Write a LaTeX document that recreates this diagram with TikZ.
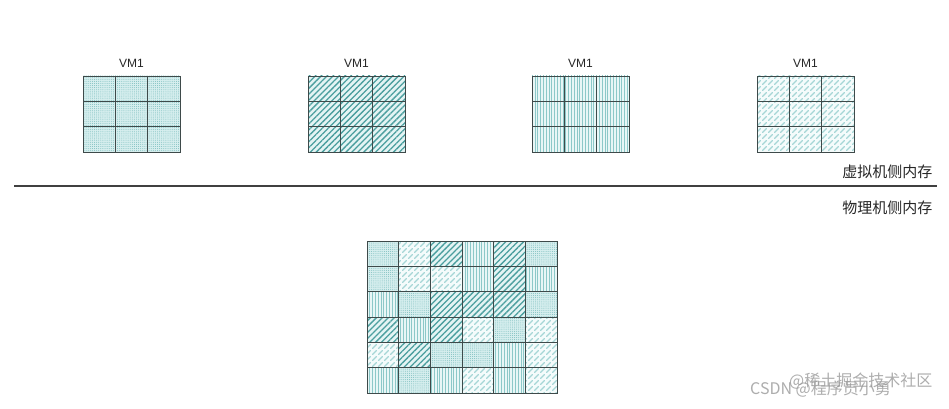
\documentclass[tikz,border=0pt]{standalone}
\usepackage{fontspec}
\setsansfont{Liberation Sans}
\newfontfamily\cjk{Noto Sans CJK SC}
\usetikzlibrary{patterns.meta}
\definecolor{tealA}{HTML}{4A9E9E}
\definecolor{tealD}{HTML}{7EBFBF}
\definecolor{tealB}{HTML}{8CC8C8}
\definecolor{tealC}{HTML}{A6D6D6}
\definecolor{bgD}{HTML}{D6EEEE}
\definecolor{bgS}{HTML}{E4F4F4}
\definecolor{bgV}{HTML}{E8F6F6}
\definecolor{bgB}{HTML}{F4FBFB}
\definecolor{gridc}{HTML}{3E4A4A}
\tikzdeclarepattern{name=Brick, type=uncolored,
  bottom left={(-.5pt,-.5pt)}, top right={(6.5pt,6.5pt)}, tile size={(6pt,6pt)},
  code={\draw[line width=1.1pt,line cap=round] (0.6pt,0.6pt)--(4.4pt,4.4pt);}}
\tikzset{
  pD/.style={fill=bgD, postaction={pattern={Dots[distance=2.1pt,radius=.5pt]}, pattern color=tealD}},
  pS/.style={fill=bgS, postaction={pattern={Lines[angle=45,distance=4.2pt,line width=1.3pt]}, pattern color=tealA}},
  pV/.style={fill=bgV, postaction={pattern={Lines[angle=90,distance=2.8pt,line width=.5pt]}, pattern color=tealB}},
  pB/.style={fill=bgB, postaction={pattern={Brick}, pattern color=tealC}},
  gridline/.style={draw=gridc, line width=.8pt},
  vmlabel/.style={font=\sffamily\fontsize{12}{14}\selectfont, text=black!85},
  side/.style={font=\cjk\fontsize{15}{17}\selectfont, text=black!85, anchor=east},
  wm/.style={font=\cjk\fontsize{16}{18}\selectfont, text=black!40, opacity=.8, anchor=west, inner sep=0pt}
}
\begin{document}
\begin{tikzpicture}[x=1pt,y=-1pt]
\useasboundingbox[fill=white] (0,0) rectangle (949,409);
% small grids
\foreach \L/\t/\n in {83/D/a,308/S/b,532/V/c,757/B/d}{
  \path[p\t] (\L,76) rectangle (\L+97,152);
  \foreach \k in {1,2}{
    \draw[gridline] (\L+\k*97/3,76) -- (\L+\k*97/3,152);
    \draw[gridline] (\L,76+\k*76/3) -- (\L+97,76+\k*76/3);
  }
  \draw[gridline] (\L,76) rectangle (\L+97,152);
  \node[vmlabel] (vm\n) at (\L+48.5,63) {VM1};
}
% separator
\coordinate (sepL) at (14,186);
\coordinate (sepR) at (937,186);
\draw[line width=1.1pt, draw=black!75] (sepL) -- (sepR);
\node[side] (virt) at (936,172) {虚拟机侧内存};
\node[side] (phys) at (936,208) {物理机侧内存};
% big grid
\foreach \row [count=\r from 0] in {{D,B,S,V,S,D},{D,B,B,V,S,V},{V,D,S,S,S,D},{S,V,S,B,D,B},{B,S,D,D,V,B},{V,D,V,B,V,B}}{
  \foreach \t [count=\c from 0] in \row {
    \path[p\t] (367+\c*190/6,241+\r*152/6) rectangle ++(190/6,152/6);
  }
}
\foreach \k in {1,...,5}{
  \draw[gridline] (367+\k*190/6,241) -- (367+\k*190/6,393);
  \draw[gridline] (367,241+\k*152/6) -- (557,241+\k*152/6);
}
\draw[gridline] (367,241) rectangle (557,393);
% watermarks
\node[wm] (wm1) at (789,381) {@稀土掘金技术社区};
\node[wm] (wm2) at (750,389) {CSDN @程序员小勇};
\end{tikzpicture}
\end{document}
